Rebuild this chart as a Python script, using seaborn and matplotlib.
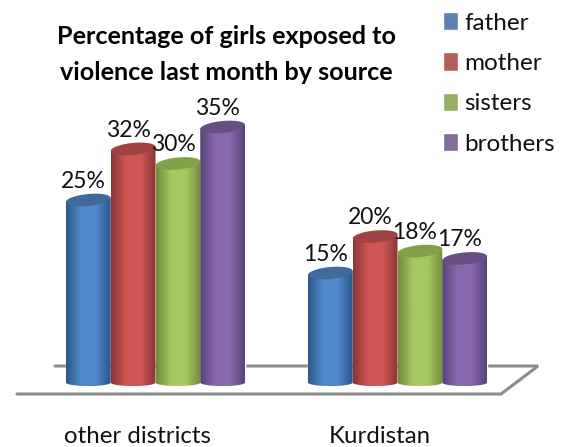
import numpy as np
import pandas as pd
import matplotlib
matplotlib.use("Agg")
import matplotlib.pyplot as plt
import seaborn as sns
from matplotlib.colors import LinearSegmentedColormap
from matplotlib.lines import Line2D
from matplotlib.patches import Polygon
from matplotlib.path import Path
from matplotlib.transforms import ScaledTranslation

regions = ["other districts", "Kurdistan"]
sources = ["father", "mother", "sisters", "brothers"]
father = [25, 15]
mother = [32, 20]
sisters = [30, 18]
brothers = [35, 17]
colors = ["#4f81bd", "#c0504d", "#9bbb59", "#8064a2"]
edge_dark = ["#2c5687", "#8a3533", "#6f8a3a", "#574475"]
center_light = ["#5189cc", "#d05654", "#a8c861", "#8768ad"]
top_colors = ["#41699b", "#9e4341", "#82a04a", "#664f83"]

df = pd.DataFrame({
    "region": regions * 4,
    "source": np.repeat(sources, 2),
    "pct": father + mother + sisters + brothers,
})

W, H = 568, 447
sns.set_theme(style="white")
plt.rcParams["font.family"] = ["Lato", "DejaVu Sans"]
fig = plt.figure(figsize=(W / 100, H / 100), dpi=100)
PX = 7.3
x0, xw, y0 = 34.5, 484, 382.5
ax = fig.add_axes([x0 / W, (H - y0) / H, xw / W, 40 * PX / H])
ax.patch.set_alpha(0)

sns.barplot(data=df, x="region", y="pct", hue="source", order=regions,
            hue_order=sources, palette=colors, width=0.74, gap=0,
            errorbar=None, ax=ax)
ax.set_xlim(-0.5, 1.5)
ax.set_ylim(0, 40)
ax.set_xlabel("")
ax.set_ylabel("")
ax.set_yticks([])
for s in ax.spines.values():
    s.set_visible(False)
ax.tick_params(axis="x", length=0, pad=31.5, labelsize=17.3)
shift = ScaledTranslation(-18 / 100, 0, fig.dpi_scale_trans)
for lab in ax.get_xticklabels():
    lab.set_transform(lab.get_transform() + shift)
    lab.set_color("#111111")

sns.move_legend(ax, "upper left", bbox_to_anchor=(443 / W, 1 - 12 / H),
                bbox_transform=fig.transFigure, frameon=False, title=None,
                fontsize=17.5, handlelength=0.62, handleheight=0.78,
                handletextpad=0.25, labelspacing=0.77, borderpad=0, borderaxespad=0)
for t in ax.get_legend().get_texts():
    t.set_color("#111111")

bot = 3.6 / PX
for i, cont in enumerate(ax.containers):
    cmap = LinearSegmentedColormap.from_list(
        "c", [edge_dark[i], center_light[i], center_light[i], edge_dark[i]])
    for bar in cont:
        bar.set_facecolor("none")
        xl, w, h = bar.get_x(), bar.get_width(), bar.get_height()
        cx, a = xl + w / 2, w / 2
        b_top = 6.0 / PX
        shear = (2.0 / PX) / a
        t = np.linspace(np.pi, 2 * np.pi, 40)
        bottom = np.c_[cx + a * np.cos(t), bot * np.sin(t)]
        clip = np.vstack([bottom, [[xl + w, h + shear * a]], [[xl, h - shear * a]], bottom[:1]])
        im = ax.imshow(np.linspace(0, 1, 120)[None, :], cmap=cmap, aspect="auto",
                       extent=(xl, xl + w, -bot, h + 1), zorder=2 + i * 0.1, origin="lower")
        im.set_clip_box(fig.bbox)
        im.set_clip_path(Path(clip), ax.transData)
        tt = np.linspace(0, 2 * np.pi, 80)
        top = np.c_[cx + a * np.cos(tt), h + b_top * np.sin(tt) + shear * a * np.cos(tt)]
        ax.add_patch(Polygon(top, closed=True, fc=top_colors[i], ec="none",
                             zorder=2.05 + i * 0.1, clip_on=False))
        ax.annotate(f"{h:.0f}%", (cx, h), xytext=(-3.5, 13.5), textcoords="offset points",
                    ha="center", va="center", fontsize=16.5, color="#111111", zorder=5)
ax.set_xlim(-0.5, 1.5)
ax.set_ylim(0, 40)

fig.add_artist(Line2D(np.array([55, 538, 501, 17]) / W,
                      1 - np.array([366, 366, 394, 394]) / H,
                      color="#8c8c8c", lw=2.2, zorder=-1, solid_joinstyle="miter"))
fig.text(226.5 / W, 1 - 37 / H, "Percentage of girls exposed to", ha="center", va="center",
         fontsize=18.1, fontweight="bold", color="black")
fig.text(226.5 / W, 1 - 72 / H, "violence last month by source", ha="center", va="center",
         fontsize=18.1, fontweight="bold", color="black")
fig.savefig("out.png", dpi=100)
